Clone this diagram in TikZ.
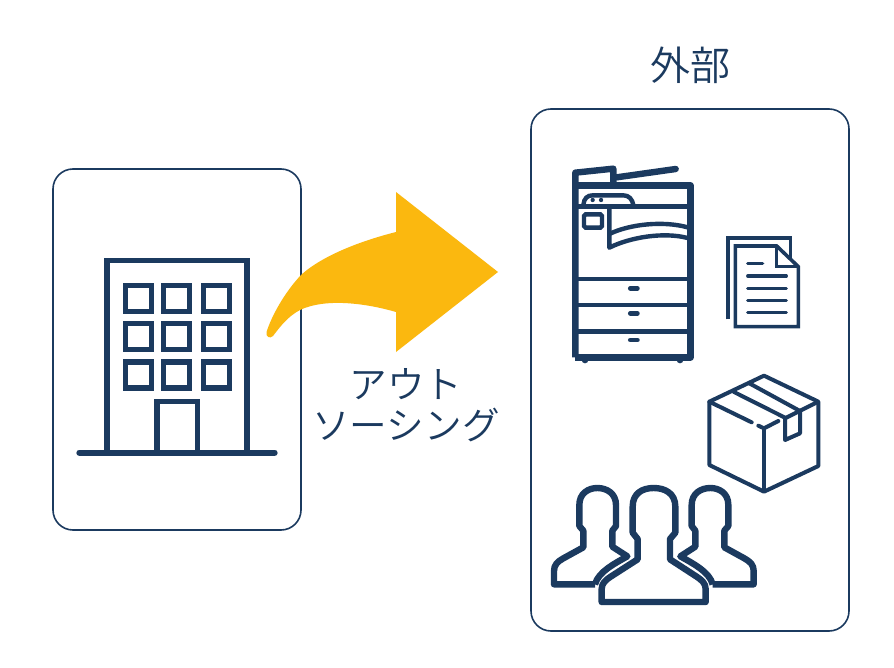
\documentclass[tikz,border=0pt]{standalone}
\usepackage{fontspec}
\newfontfamily\cjk{Noto Sans CJK JP DemiLight}
\definecolor{navy}{HTML}{1B3A5F}
\definecolor{gold}{HTML}{FBB80F}
\tikzset{
  panel/.style={draw=navy,line width=0.8pt,rounded corners=10pt,fill=white},
  ico/.style={draw=navy,line join=miter},
  label/.style={text=navy,inner sep=0pt,align=center,font=\cjk},
  zoomA/.style={shift={(550,150)},x=0.16667pt,y=-0.16667pt},
  zoomB/.style={shift={(540,365)},x=0.16667pt,y=-0.16667pt},
  zoomC/.style={shift={(60,180)},x=0.16667pt,y=-0.16667pt}
}
\newcommand{\sideperson}{%
  \draw[ico,line width=3.2pt,line join=round]
    (165,658) -- (42,658) -- (42,618) .. controls (42,600) and (52,590) .. (70,580)
    -- (130,547) -- (130,497) -- (118,483) -- (118,420)
    .. controls (118,385) and (145,369) .. (172,369)
    .. controls (200,369) and (228,385) .. (228,420)
    -- (228,483) -- (217,497) -- (217,545) -- (262,574)
    .. controls (225,595) and (175,620) .. (165,658);
}
\begin{document}
\begin{tikzpicture}[x=0.5pt,y=-0.5pt]
\useasboundingbox (0,0) rectangle (894,668);
\fill[white] (0,0) rectangle (894,668);
% panels
\draw[panel] (53,169) rectangle (301,530);
\draw[panel] (531,109) rectangle (849,631);
% arrow
\fill[gold] (498,272) -- (396,192) -- (396,232)
  .. controls (345,245) and (315,262) .. (301,275)
  .. controls (285,292) and (272,315) .. (266.5,332)
  .. controls (265.5,337) and (270,339) .. (273,336)
  .. controls (280,327) and (287,317) .. (300,310)
  .. controls (325,298) and (365,303) .. (396,312)
  -- (396,352) -- cycle;
% building
\begin{scope}[zoomC]
  \draw[ico,line width=2.75pt] (141,818) -- (141,242) -- (561,242) -- (561,818);
  \draw[ico,line width=2.75pt] (291,818) -- (291,665) -- (412,665) -- (412,818);
  \draw[ico,line width=3pt,line cap=round] (58,818) -- (644,818);
  \foreach \cx in {234.5,348.5,468.5}{
    \foreach \cy in {355.5,470.5,585}{
      \draw[ico,line width=2.6pt] (\cx-39,\cy-39) rectangle (\cx+39,\cy+39);
    }
  }
\end{scope}
% copier
\begin{scope}[zoomA]
  \draw[ico,line width=3.2pt,line join=round] (76,622) -- (76,68) -- (190,56) -- (190,97);
  \draw[ico,line width=3.2pt,line join=round] (76,106) -- (421,106) -- (421,622) -- (76,622);
  \draw[ico,line width=3.2pt,line cap=round] (200,82) -- (377,57);
  \draw[ico,line width=2.4pt] (85,170) -- (415,170);
  \draw[ico,line width=2.4pt] (85,387) -- (415,387);
  \draw[ico,line width=2.4pt] (85,465) -- (415,465);
  \draw[ico,line width=2.4pt] (85,544) -- (415,544);
  \draw[ico,line width=2.2pt] (100,165) .. controls (102,145) and (112,136) .. (128,136)
    -- (220,136) .. controls (237,136) and (247,148) .. (250,165);
  \fill[navy] (128,150) circle[radius=6.5] (153,150) circle[radius=6.5];
  \draw[ico,line width=2.2pt,rounded corners=0.8pt] (102,193) rectangle (156,233);
  \draw[ico,line width=2.2pt,line join=round] (178,172) -- (178,293)
    .. controls (240,262) and (340,245) .. (413,264);
  \draw[ico,line width=2.2pt] (178,252) .. controls (240,222) and (340,212) .. (413,232);
  \draw[navy,line width=2.4pt,line cap=round] (241,415) -- (262,415) (241,490) -- (262,490) (241,570) -- (262,570);
  \fill[navy] (95,630) arc[start angle=180,end angle=0,radius=10] -- cycle;
  \fill[navy] (380,630) arc[start angle=180,end angle=0,radius=10] -- cycle;
  % document
  \draw[ico,line width=1.6pt,fill=white] (534,508) -- (534,264) -- (722,264) -- (722,330);
  \draw[ico,line width=1.8pt,fill=white,line join=miter] (556,530) -- (556,288) -- (680,288) -- (745,350) -- (745,530) -- cycle;
  \draw[ico,line width=1.8pt] (680,288) -- (680,350) -- (745,350);
  \draw[navy,line width=1.6pt,line cap=round] (593,341) -- (638,341) (593,378) -- (709,378)
    (593,415) -- (709,415) (593,452) -- (709,452) (593,488) -- (709,488);
\end{scope}
% box and people
\begin{scope}[zoomB]
  \draw[ico,line width=2pt,line join=round] (672,32) -- (835,110) -- (835,303) -- (672,380) -- (508,300) -- (508,110) -- cycle;
  \draw[ico,line width=2pt,line cap=round,line join=round] (508,110) -- (635,172) (655,182) -- (672,190) -- (715,168);
  \draw[ico,line width=2pt] (672,190) -- (672,380);
  \draw[ico,line width=2pt] (835,110) -- (735,160);
  \draw[ico,line width=2pt,line join=round] (580,80) -- (735,158) -- (735,225) -- (780,205) -- (780,138) -- (628,55);
  \sideperson
  \begin{scope}[shift={(683,0)},xscale=-1]
    \sideperson
  \end{scope}
  \draw[ico,line width=3.2pt,line join=round]
    (185,711) -- (497,711) -- (497,672) .. controls (497,655) and (485,645) .. (470,635)
    -- (390,583) -- (390,522) -- (406,503) -- (406,425)
    .. controls (406,385) and (375,369) .. (341,369)
    .. controls (307,369) and (278,385) .. (278,425)
    -- (278,503) -- (293,522) -- (293,583) -- (212,635)
    .. controls (197,645) and (185,655) .. (185,672) -- cycle;
\end{scope}
% labels
\node[label,font=\cjk\fontsize{20pt}{24pt}\selectfont] (gaibu) at (690,65) {外部};
\node[label,font=\cjk\fontsize{18.8pt}{20.5pt}\selectfont] (outsourcing) at (406,405) {アウト\\ソーシング};
\end{tikzpicture}
\end{document}
